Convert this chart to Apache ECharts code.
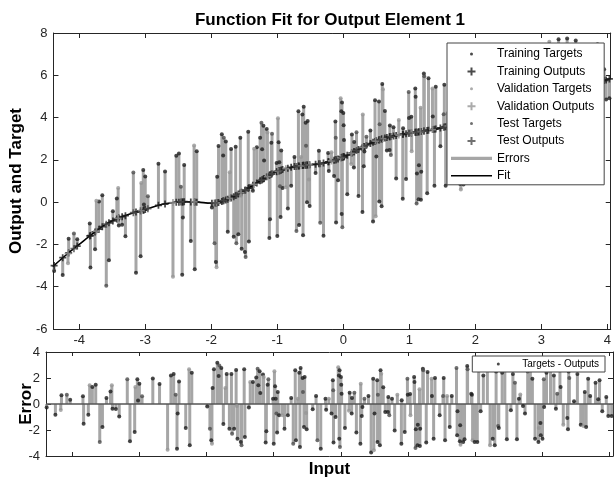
<!DOCTYPE html>
<html>
<head>
<meta charset="utf-8">
<script src="https://cdn.jsdelivr.net/npm/echarts@6/dist/echarts.min.js"></script>
<style>
  html, body { margin: 0; padding: 0; background: #fff; }
  #chart { width: 614px; height: 482px; }
</style>
</head>
<body>
<div id="chart"></div>
<script>
// inputs of every sample (sorted)
const xs = [
  -4.38,-4.25,-4.17,-4.16,-4.08,-4.03,-3.84,-3.83,-3.76,-3.74,
  -3.70,-3.65,-3.59,-3.55,-3.49,-3.43,-3.41,-3.40,-3.35,-3.30,
  -3.18,-3.14,-3.07,-3.06,-3.03,-3.02,-3.00,-2.96,-2.80,-2.70,
  -2.58,-2.53,-2.49,-2.46,-2.44,-2.43,-2.41,-2.31,-2.26,-2.25,
  -2.22,-1.99,-1.95,-1.93,-1.92,-1.91,-1.89,-1.84,-1.82,-1.81,
  -1.78,-1.75,-1.72,-1.70,-1.66,-1.63,-1.62,-1.59,-1.56,-1.55,
  -1.54,-1.49,-1.48,-1.43,-1.44,-1.37,-1.35,-1.31,-1.26,-1.24,
  -1.23,-1.21,-1.20,-1.16,-1.15,-1.12,-1.11,-1.09,-1.08,-1.01,
  -1.00,-0.99,-0.98,-0.97,-0.96,-0.95,-0.94,-0.92,-0.87,-0.84,
  -0.79,-0.74,-0.71,-0.68,-0.67,-0.64,-0.62,-0.61,-0.60,-0.57,
  -0.565,-0.55,-0.54,-0.52,-0.51,-0.42,-0.37,-0.35,-0.30,-0.23,
  -0.22,-0.18,-0.14,-0.12,-0.115,-0.11,-0.08,-0.04,-0.03,-0.025,
  -0.02,-0.015,0.00,0.005,0.01,0.06,0.12,0.13,0.16,0.165,
  0.20,0.23,0.29,0.295,0.31,0.32,0.35,0.41,0.45,0.48,
  0.49,0.50,0.54,0.545,0.55,0.58,0.59,0.60,0.63,0.66,
  0.70,0.705,0.72,0.76,0.80,0.84,0.90,0.905,0.95,0.99,
  0.995,1.03,1.035,1.09,1.095,1.11,1.115,1.14,1.145,1.17,
  1.175,1.18,1.22,1.225,1.27,1.29,1.35,1.355,1.38,1.40,
  1.47,1.52,1.53,1.55,1.58,1.62,1.65,1.72,1.73,1.735,
  1.77,1.775,1.78,1.82,1.84,1.88,1.885,1.94,1.95,1.96,
  1.99,2.03,2.05,2.08,2.12,2.18,2.22,2.26,2.29,2.31,
  2.34,2.35,2.40,2.44,2.47,2.53,2.56,2.59,2.62,2.65,
  2.67,2.71,2.74,2.78,2.82,2.85,2.89,2.94,2.945,2.97,
  2.975,3.00,3.02,3.025,3.06,3.12,3.17,3.20,3.22,3.26,
  3.27,3.31,3.37,3.38,3.39,3.40,3.47,3.52,3.57,3.61,
  3.63,3.65,3.68,3.71,3.79,3.83,3.85,3.89,3.95,3.98,
  4.03
];

// network outputs (they sit on the fit curve)
const outs = [
  -3.00,-2.63,-2.43,-2.40,-2.20,-2.08,-1.60,-1.58,-1.41,-1.37,
  -1.28,-1.16,-1.04,-0.98,-0.89,-0.80,-0.77,-0.75,-0.69,-0.64,
  -0.50,-0.47,-0.41,-0.40,-0.38,-0.37,-0.35,-0.31,-0.15,-0.09,
  -0.02,0.00,0.00,0.01,0.01,0.01,0.02,0.01,0.01,0.01,
  0.00,-0.05,-0.04,-0.04,-0.03,-0.03,-0.02,0.03,0.06,0.07,
  0.10,0.14,0.18,0.20,0.26,0.31,0.33,0.38,0.43,0.45,
  0.47,0.56,0.58,0.68,0.66,0.80,0.84,0.91,1.01,1.04,
  1.06,1.10,1.12,1.20,1.21,1.27,1.29,1.32,1.34,1.44,
  1.45,1.46,1.47,1.48,1.49,1.50,1.52,1.54,1.58,1.60,
  1.65,1.68,1.69,1.71,1.71,1.72,1.73,1.74,1.74,1.75,
  1.75,1.76,1.76,1.76,1.77,1.79,1.81,1.82,1.85,1.91,
  1.91,1.95,1.98,2.00,2.00,2.01,2.04,2.09,2.10,2.11,
  2.12,2.12,2.14,2.15,2.15,2.22,2.31,2.33,2.38,2.38,
  2.44,2.49,2.58,2.59,2.62,2.63,2.68,2.77,2.83,2.87,
  2.89,2.90,2.94,2.95,2.96,2.99,3.00,3.01,3.03,3.06,
  3.09,3.09,3.10,3.13,3.15,3.17,3.21,3.21,3.24,3.26,
  3.26,3.27,3.28,3.30,3.30,3.31,3.31,3.32,3.33,3.34,
  3.34,3.34,3.36,3.36,3.39,3.40,3.43,3.43,3.45,3.46,
  3.51,3.54,3.55,3.57,3.59,3.61,3.63,3.69,3.70,3.70,
  3.73,3.73,3.73,3.76,3.78,3.81,3.81,3.85,3.86,3.87,
  3.89,3.93,3.95,3.98,4.02,4.08,4.12,4.16,4.19,4.21,
  4.24,4.25,4.30,4.34,4.37,4.43,4.46,4.49,4.52,4.55,
  4.57,4.61,4.64,4.68,4.72,4.75,4.79,4.84,4.84,4.87,
  4.87,4.90,4.91,4.92,4.94,4.99,5.03,5.05,5.07,5.11,
  5.12,5.16,5.22,5.23,5.24,5.25,5.30,5.34,5.38,5.41,
  5.43,5.45,5.48,5.51,5.59,5.63,5.65,5.69,5.75,5.78,
  5.83
];

// errors = targets - outputs (bottom panel)
const errs = [
  -0.26,-0.82,-0.46,0.67,0.72,0.33,0.59,-1.51,-0.82,1.44,
  1.31,1.49,-2.92,-1.77,0.46,0.97,1.44,-0.36,-0.38,-0.97,
  1.90,-2.87,-2.15,1.31,1.90,0.26,1.56,0.59,1.97,1.54,
  -3.51,2.20,2.30,0.72,-3.44,-0.74,1.74,-1.85,2.67,-3.18,
  2.41,-0.20,-1.90,-2.79,-3.05,1.23,2.67,3.18,2.15,2.97,
  2.77,-1.54,1.23,2.31,-1.90,2.31,-2.28,-1.90,2.62,-0.15,
  -2.67,-2.92,-3.18,-2.54,2.67,-0.26,1.69,1.69,2.03,2.72,
  1.44,2.51,0.85,2.26,2.08,-2.97,-2.10,1.49,1.90,0.41,
  -3.05,2.51,1.36,0.41,-0.74,-2.20,0.92,-0.87,-0.87,-1.90,
  -0.87,0.46,-3.05,2.59,-2.79,0.41,2.41,-3.31,2.77,2.00,
  0.92,-1.77,2.08,-0.69,-1.95,-0.41,0.62,-2.79,-3.44,0.41,
  -0.44,0.41,-0.74,1.82,1.05,-2.97,-1.00,2.82,2.20,-2.67,
  2.59,-3.31,2.08,1.49,0.79,-1.85,-0.51,0.87,-0.74,0.46,
  0.87,-2.20,-3.05,1.56,-0.92,-0.23,0.41,0.62,-3.74,1.95,
  -3.56,-0.74,1.82,-2.92,0.72,-3.18,2.59,2.33,1.28,-0.62,
  -0.62,0.54,-0.87,0.41,-2.03,0.72,-3.05,0.28,-2.15,1.95,
  0.72,0.77,-0.87,2.08,1.69,-3.38,-1.95,-3.18,-1.59,1.13,
  -3.23,-1.90,2.72,2.59,-2.97,2.46,1.95,0.62,-2.67,2.00,
  -0.87,0.62,2.00,-2.79,0.62,-1.77,0.62,2.77,-2.41,-0.56,
  -2.87,-1.64,-3.13,-2.92,-2.72,2.92,2.67,0.79,0.72,-2.79,
  -2.92,-2.92,2.60,-0.56,2.20,2.80,-3.18,-2.67,-3.18,2.50,
  -1.69,-1.85,2.40,2.90,-2.72,-0.49,2.30,1.64,-2.72,0.41,
  0.74,-0.15,-0.74,2.50,2.70,1.95,-2.67,-2.92,-1.85,-1.46,
  -2.41,-2.67,1.90,-0.23,2.40,2.60,2.20,-0.36,0.79,2.60,
  1.31,-1.59,-1.08,-1.95,2.50,2.00,0.21,2.30,-1.59,-1.69,
  0.92,-1.77,1.95,0.62,1.64,0.36,1.82,-0.56,0.54,-0.92,
  -0.92
];

// data split: t = training, v = validation, s = test
const cats =
  "ttvtsttttvttstttvtttsttvtttsttvttsttttvtttstvttttsttvtttsttvtts" +
  "tttvttsttttvtttsttvttstttvtttsttvttttsttvtttstttvttsttvtttsttt" +
  "tvtttsttvttstttvtttsttvttttsttvtttsttvttstttvtttsttvttttsttvtts" +
  "ttttvtttsttvttstttvtttsttvtttsttvttsttttvtttsttvttsttvtttstttvt";

// fit curve
const fitX = [-4.4,-4.2,-4.0,-3.8,-3.6,-3.4,-3.2,-3.0,-2.8,-2.6,-2.4,-2.2,-2.0,-1.9,-1.8,-1.7,-1.6,-1.5,-1.4,-1.3,
  -1.2,-1.1,-1.0,-0.9,-0.8,-0.7,-0.6,-0.5,-0.4,-0.3,-0.2,-0.1,0,0.1,0.2,0.3,0.4,0.5,0.6,0.7,
  0.8,0.9,1.0,1.2,1.4,1.6,1.8,2.0,2.2,2.4,2.6,2.8,3.0,3.2,3.4,3.6,3.8,4.0,4.05];
const fitY = [-3.05,-2.5,-2.0,-1.5,-1.05,-0.75,-0.52,-0.35,-0.15,-0.03,0.02,0.0,-0.05,-0.03,0.08,0.2,0.36,0.54,0.74,0.93,
  1.12,1.31,1.45,1.56,1.64,1.7,1.74,1.77,1.8,1.85,1.93,2.02,2.14,2.28,2.44,2.6,2.76,2.9,3.01,3.09,
  3.15,3.21,3.26,3.35,3.46,3.6,3.75,3.9,4.1,4.3,4.5,4.7,4.9,5.05,5.25,5.4,5.6,5.8,5.85];

const xTicks = [-4, -3, -2, -1, 0, 1, 2, 3, 4];

const FONT = "'Liberation Sans', Arial, sans-serif";
const INK = '#262626';
const ERR_GRAY = '#a6a6a6';
const catColor = { t: '#1d1d1d', v: '#969696', s: '#4c4c4c' };
const PLUS = 'path://M3,0H5V3H8V5H5V8H3V5H0V3H3Z';
const DOT = 'path://M0,0M8,8M2.5,4A1.5,1.5,0,1,1,5.5,4A1.5,1.5,0,1,1,2.5,4Z';

let chart = echarts.init(document.getElementById('chart'), null, { renderer: 'canvas' });

function catOf(i) { return cats[i] || 't'; }

function targetsOf(c) {
  let r = [];
  xs.forEach((x, i) => { if (catOf(i) === c) r.push([x, +(outs[i] + errs[i]).toFixed(2)]); });
  return r;
}
function outputsOf(c) {
  let r = [];
  xs.forEach((x, i) => { if (catOf(i) === c) r.push([x, outs[i]]); });
  return r;
}

// vertical stem between two y values on the same x
function stem(params, api) {
  let p1 = api.coord([api.value(0), api.value(1)]);
  let p2 = api.coord([api.value(0), api.value(2)]);
  return {
    type: 'line',
    shape: { x1: p1[0], y1: p1[1], x2: p2[0], y2: p2[1] },
    style: { stroke: ERR_GRAY, lineWidth: 3 }
  };
}

function axisBase(extra) {
  return Object.assign({
    type: 'value',
    axisLine: { show: true, onZero: false, lineStyle: { color: INK, width: 1 } },
    axisTick: { show: true, inside: true, length: 5, lineStyle: { color: INK } },
    splitLine: { show: false },
    axisLabel: { show: false }
  }, extra);
}

const labelStyle = { show: true, fontSize: 13, color: INK, fontFamily: FONT };
const nameStyle = { fontSize: 17, fontWeight: 'bold', color: '#000', fontFamily: FONT };

let option = {
  animation: false,
  backgroundColor: '#fff',
  title: {
    text: 'Function Fit for Output Element 1',
    left: 330, top: 12, padding: 0, textAlign: 'center',
    textStyle: { fontSize: 17, fontWeight: 'bold', color: '#000', fontFamily: FONT }
  },
  grid: [
    { left: 46, right: 1, top: 33, height: 296 },
    { left: 46, right: 1, top: 352, height: 104 }
  ],
  xAxis: [
    axisBase({ gridIndex: 0, position: 'bottom', min: -4.39, max: 4.05,
      axisTick: { show: true, inside: true, length: 5, customValues: xTicks, lineStyle: { color: INK } },
      axisLabel: Object.assign({ margin: 5, customValues: xTicks }, labelStyle) }),
    axisBase({ gridIndex: 0, position: 'top', min: -4.39, max: 4.05,
      axisTick: { show: true, inside: true, length: 5, customValues: xTicks, lineStyle: { color: INK } } }),
    axisBase({ gridIndex: 1, position: 'bottom', min: -4.39, max: 4.05,
      axisTick: { show: true, inside: true, length: 4, customValues: xTicks, lineStyle: { color: INK } },
      name: 'Input', nameLocation: 'middle', nameGap: 5, nameTextStyle: nameStyle }),
    axisBase({ gridIndex: 1, position: 'top', min: -4.39, max: 4.05,
      axisTick: { show: true, inside: true, length: 4, customValues: xTicks, lineStyle: { color: INK } } })
  ],
  yAxis: [
    axisBase({ gridIndex: 0, position: 'left', min: -6, max: 8, interval: 2,
      axisLabel: Object.assign({ margin: 6 }, labelStyle),
      name: 'Output and Target', nameLocation: 'middle', nameGap: 23, nameTextStyle: nameStyle }),
    axisBase({ gridIndex: 0, position: 'right', min: -6, max: 8, interval: 2 }),
    axisBase({ gridIndex: 1, position: 'left', min: -4, max: 4, interval: 2,
      axisLabel: Object.assign({ margin: 6 }, labelStyle),
      name: 'Error', nameLocation: 'middle', nameGap: 11, nameMoveOverlap: false, nameTextStyle: nameStyle }),
    axisBase({ gridIndex: 1, position: 'right', min: -4, max: 4, interval: 2 })
  ],
  legend: [
    {
      orient: 'vertical', left: 447, top: 43, padding: [4, 10, 2, 4], z: 10,
      itemWidth: 41, itemHeight: 8, itemGap: 3.4,
      backgroundColor: '#fff', borderColor: '#444', borderWidth: 1, borderRadius: 0,
      selectedMode: false,
      textStyle: { fontSize: 12, lineHeight: 14, color: '#000', fontFamily: FONT },
      data: [
        { name: 'Training Targets', icon: DOT },
        { name: 'Training Outputs', icon: PLUS },
        { name: 'Validation Targets', icon: DOT },
        { name: 'Validation Outputs', icon: PLUS },
        { name: 'Test Targets', icon: DOT },
        { name: 'Test Outputs', icon: PLUS },
        { name: 'Errors', icon: 'path://M0,0H40V3.2H0Z' },
        { name: 'Fit', icon: 'path://M0,0H40V1.6H0Z' }
      ]
    },
    {
      orient: 'vertical', right: 9, top: 356, align: 'left', padding: [2, 6, 2, 22], z: 10,
      itemWidth: 38, itemHeight: 8, itemGap: 0,
      backgroundColor: '#fff', borderColor: '#444', borderWidth: 1, borderRadius: 0,
      selectedMode: false,
      textStyle: { fontSize: 10, lineHeight: 12, color: '#000', fontFamily: FONT },
      data: [{ name: 'Targets - Outputs', icon: DOT }]
    }
  ],
  series: [
    {
      name: 'Errors', type: 'custom', xAxisIndex: 0, yAxisIndex: 0, z: 2,
      itemStyle: { color: ERR_GRAY },
      renderItem: stem, encode: { x: 0, y: [1, 2] },
      data: xs.map((x, i) => [x, outs[i], +(outs[i] + errs[i]).toFixed(2)])
    },
    {
      name: 'Fit', type: 'line', xAxisIndex: 0, yAxisIndex: 0, z: 3,
      smooth: 0.3, symbol: 'none', color: '#000',
      lineStyle: { color: '#000', width: 1.6 },
      data: fitX.map((x, i) => [x, fitY[i]])
    },
    { name: 'Training Outputs', type: 'scatter', xAxisIndex: 0, yAxisIndex: 0, z: 4,
      symbol: PLUS, symbolSize: 7, itemStyle: { color: catColor.t }, data: outputsOf('t') },
    { name: 'Validation Outputs', type: 'scatter', xAxisIndex: 0, yAxisIndex: 0, z: 4,
      symbol: PLUS, symbolSize: 7, itemStyle: { color: catColor.v }, data: outputsOf('v') },
    { name: 'Test Outputs', type: 'scatter', xAxisIndex: 0, yAxisIndex: 0, z: 4,
      symbol: PLUS, symbolSize: 7, itemStyle: { color: catColor.s }, data: outputsOf('s') },
    { name: 'Training Targets', type: 'scatter', xAxisIndex: 0, yAxisIndex: 0, z: 5,
      symbol: 'circle', symbolSize: 4, itemStyle: { color: catColor.t }, data: targetsOf('t') },
    { name: 'Validation Targets', type: 'scatter', xAxisIndex: 0, yAxisIndex: 0, z: 5,
      symbol: 'circle', symbolSize: 4, itemStyle: { color: catColor.v }, data: targetsOf('v') },
    { name: 'Test Targets', type: 'scatter', xAxisIndex: 0, yAxisIndex: 0, z: 5,
      symbol: 'circle', symbolSize: 4, itemStyle: { color: catColor.s }, data: targetsOf('s') },
    {
      name: 'errStems', type: 'custom', xAxisIndex: 2, yAxisIndex: 2, z: 2,
      itemStyle: { color: ERR_GRAY },
      renderItem: stem, encode: { x: 0, y: [1, 2] },
      data: xs.map((x, i) => [x, 0, errs[i]]),
      markLine: {
        silent: true, symbol: 'none', label: { show: false },
        lineStyle: { color: '#555', width: 1.5, type: 'solid' },
        data: [{ yAxis: 0 }]
      }
    },
    {
      name: 'Targets - Outputs', type: 'scatter', xAxisIndex: 2, yAxisIndex: 2, z: 5,
      symbol: 'circle', symbolSize: 4, itemStyle: { color: catColor.t },
      data: xs.map((x, i) => ({ value: [x, errs[i]], itemStyle: { color: catColor[catOf(i)] } }))
    }
  ]
};

chart.setOption(option);
</script>
</body>
</html>
